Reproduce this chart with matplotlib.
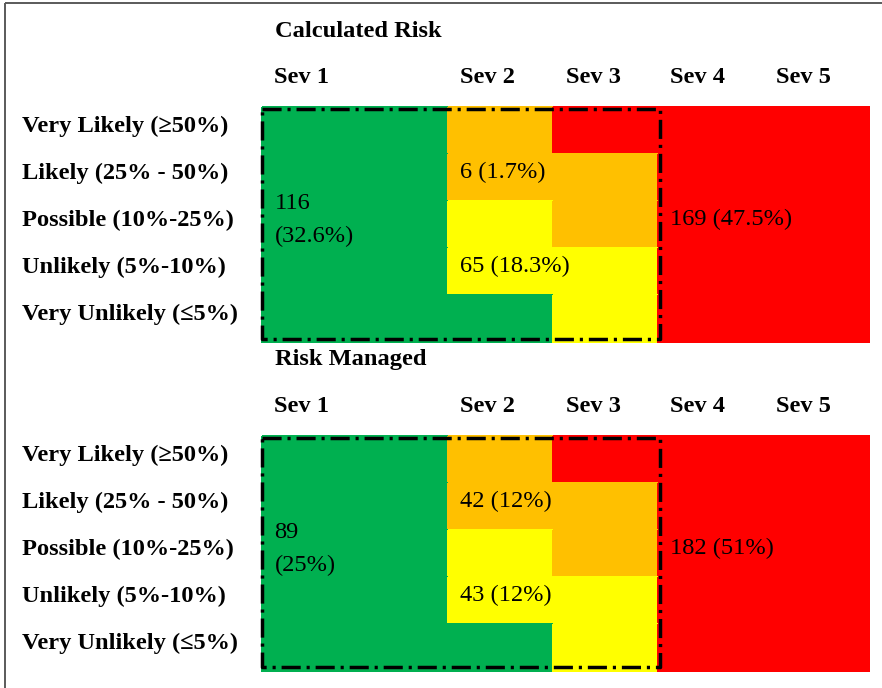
import matplotlib
matplotlib.use("Agg")
import matplotlib.pyplot as plt
from matplotlib.colors import ListedColormap
import numpy as np

# ---- data -------------------------------------------------------------
severities = ["Sev 1", "Sev 2", "Sev 3", "Sev 4", "Sev 5"]
likelihoods = [
    "Very Likely (\u226550%)",
    "Likely (25% - 50%)",
    "Possible (10%-25%)",
    "Unlikely (5%-10%)",
    "Very Unlikely (\u22645%)",
]
# zone of each cell: 0 green, 1 yellow, 2 amber, 3 red (rows = likelihood)
zone_grid = [
    [0, 2, 3, 3, 3],
    [0, 2, 2, 3, 3],
    [0, 1, 2, 3, 3],
    [0, 1, 1, 3, 3],
    [0, 0, 1, 3, 3],
]
zones = ["Green", "Amber", "Yellow", "Red"]
panel_titles = ["Calculated Risk", "Risk Managed"]
calculated_counts = [116, 6, 65, 169]
calculated_pcts = [32.6, 1.7, 18.3, 47.5]
managed_counts = [89, 42, 43, 182]
managed_pcts = [25, 12, 12, 51]

# ---- layout (pixels) --------------------------------------------------
W, H = 882, 688
col_edges = np.array([262, 448, 553, 658, 763.5, 869])
row_h = 47
panel_tops = [107, 435.7]
label_x = 22
zone_colors = ["#00B050", "#FFFF00", "#FFC000", "#FF0000"]
# where each zone's count is written: (column, row, two-line)
zone_label_cell = {"Green": (0, 2, True), "Amber": (1, 1, False),
                   "Yellow": (1, 3, False), "Red": (3, 2, False)}

serif = ["Liberation Serif", "DejaVu Serif"]
fs = 17.6

fig = plt.figure(figsize=(W / 100, H / 100), dpi=100)
ax = fig.add_axes([0, 0, 1, 1])
ax.set_xlim(0, W)
ax.set_ylim(H, 0)
ax.axis("off")

# outer frame (top and left edges)
ax.plot([4.8, 4.8], [2.5, H], color="#5a5a5a", lw=1.4, solid_capstyle="butt")
ax.plot([4.8, W], [2.5, 2.5], color="#5a5a5a", lw=1.4, solid_capstyle="butt")

cmap = ListedColormap(zone_colors)
panels = [(calculated_counts, calculated_pcts), (managed_counts, managed_pcts)]

for top, title, (counts, pcts) in zip(panel_tops, panel_titles, panels):
    row_edges = top + row_h * np.arange(len(likelihoods) + 1)
    ax.pcolormesh(col_edges, row_edges, np.array(zone_grid), cmap=cmap,
                  vmin=-0.5, vmax=3.5, shading="flat", edgecolors="face",
                  linewidth=0.3)

    # titles and severity headers
    ax.text(col_edges[0] + 13, top - 70.4, title, fontsize=fs,
            fontweight="bold", family=serif, ha="left", va="baseline")
    for j, sev in enumerate(severities):
        ax.text(col_edges[j] + 12.5, top - 23.8, sev, fontsize=fs,
                fontweight="bold", family=serif, ha="left", va="baseline")

    # likelihood labels
    for i, lab in enumerate(likelihoods):
        ax.text(label_x, row_edges[i] + 25, lab, fontsize=fs,
                fontweight="bold", family=serif, ha="left", va="baseline")

    # zone counts (baseline of the last line)
    for z, n, p in zip(zones, counts, pcts):
        c, r, two_line = zone_label_cell[z]
        sep = "\n" if two_line else " "
        txt = f"{n}{sep}({p:g}%)"
        y = row_edges[r] + (41.0 if two_line else 24.3)
        ax.text(col_edges[c] + 12.5, y, txt, fontsize=fs, family=serif,
                ha="left", va="baseline", linespacing=1.72)

    # dash-dot outline around severities 1-3
    x0, x1 = col_edges[0], col_edges[3] + 2
    y0, y1 = row_edges[0] + 2.3, row_edges[-1] - 3.5
    ax.plot([x0, x1, x1, x0, x0], [y0, y0, y1, y1, y0], color="black",
            lw=2.5, linestyle=(0, (5.5, 1.7, 0.9, 1.7)),
            dash_capstyle="butt", solid_joinstyle="miter")

fig.savefig("out.png", dpi=100)
